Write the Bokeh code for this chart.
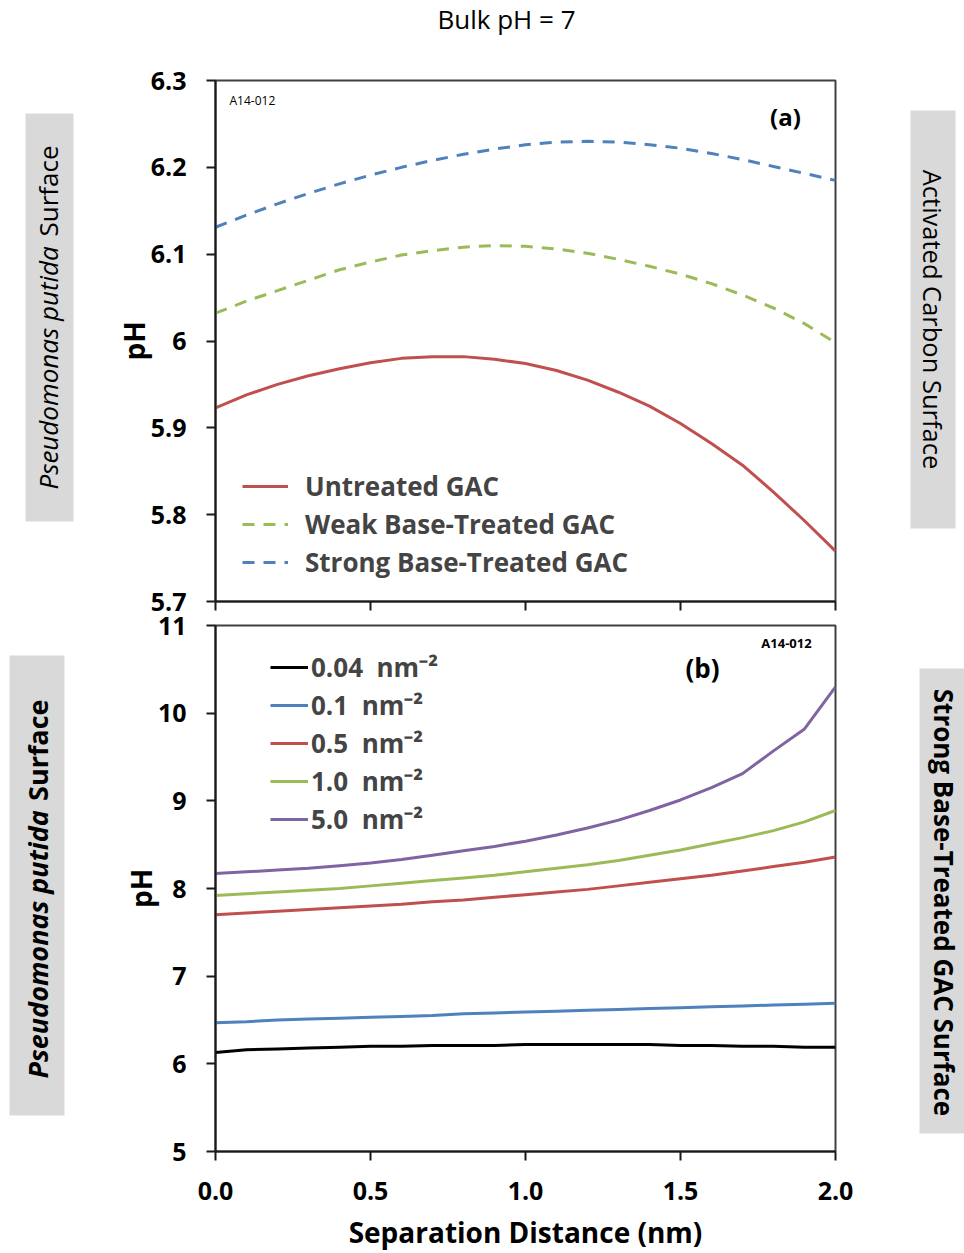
from math import pi

from bokeh.plotting import figure
from bokeh.models import Label, Legend, LegendItem, FixedTicker, Range1d
from bokeh.layouts import column, row
from bokeh.core.properties import value
from bokeh.embed import file_html
from bokeh.resources import INLINE

# ---------------- data ----------------
distance = [0.0, 0.1, 0.2, 0.3, 0.4, 0.5, 0.6, 0.7, 0.8, 0.9, 1.0,
            1.1, 1.2, 1.3, 1.4, 1.5, 1.6, 1.7, 1.8, 1.9, 2.0]

# panel (a): GAC surface treatments
ph_untreated = [5.923, 5.938, 5.950, 5.960, 5.968, 5.975, 5.980, 5.982, 5.982, 5.979, 5.974,
                5.966, 5.955, 5.941, 5.925, 5.905, 5.882, 5.857, 5.826, 5.793, 5.758]
ph_weak_base = [6.032, 6.046, 6.058, 6.070, 6.082, 6.091, 6.099, 6.104, 6.108, 6.110, 6.109,
                6.106, 6.101, 6.094, 6.086, 6.077, 6.066, 6.053, 6.038, 6.020, 5.998]
ph_strong_base = [6.131, 6.145, 6.158, 6.170, 6.181, 6.191, 6.200, 6.208, 6.215, 6.221, 6.226,
                  6.229, 6.230, 6.229, 6.226, 6.222, 6.216, 6.209, 6.201, 6.193, 6.185]
series_a = ["Untreated GAC", "Weak Base-Treated GAC", "Strong Base-Treated GAC"]

# panel (b): site densities on the strong base-treated GAC
ph_004 = [6.13, 6.16, 6.17, 6.18, 6.19, 6.20, 6.20, 6.21, 6.21, 6.21, 6.22,
          6.22, 6.22, 6.22, 6.22, 6.21, 6.21, 6.20, 6.20, 6.19, 6.19]
ph_01 = [6.47, 6.48, 6.50, 6.51, 6.52, 6.53, 6.54, 6.55, 6.57, 6.58, 6.59,
         6.60, 6.61, 6.62, 6.63, 6.64, 6.65, 6.66, 6.67, 6.68, 6.69]
ph_05 = [7.70, 7.72, 7.74, 7.76, 7.78, 7.80, 7.82, 7.85, 7.87, 7.90, 7.93,
         7.96, 7.99, 8.03, 8.07, 8.11, 8.15, 8.20, 8.25, 8.30, 8.36]
ph_10 = [7.92, 7.94, 7.96, 7.98, 8.00, 8.03, 8.06, 8.09, 8.12, 8.15, 8.19,
         8.23, 8.27, 8.32, 8.38, 8.44, 8.51, 8.58, 8.66, 8.76, 8.89]
ph_50 = [8.17, 8.19, 8.21, 8.23, 8.26, 8.29, 8.33, 8.38, 8.43, 8.48, 8.54,
         8.61, 8.69, 8.78, 8.89, 9.01, 9.15, 9.31, 9.57, 9.82, 10.30]
series_b = ["0.04\u00a0\u00a0nm\u207b\u00b2", "0.1\u00a0\u00a0nm\u207b\u00b2", "0.5\u00a0\u00a0nm\u207b\u00b2",
            "1.0\u00a0\u00a0nm\u207b\u00b2", "5.0\u00a0\u00a0nm\u207b\u00b2"]

x_ticks = [0.0, 0.5, 1.0, 1.5, 2.0]
x_tick_labels = ["0.0", "0.5", "1.0", "1.5", "2.0"]
a_ticks = [5.7, 5.8, 5.9, 6.0, 6.1, 6.2, 6.3]
a_tick_labels = ["5.7", "5.8", "5.9", "6", "6.1", "6.2", "6.3"]
b_ticks = [5, 6, 7, 8, 9, 10, 11]
b_tick_labels = ["5", "6", "7", "8", "9", "10", "11"]

# ---------------- styling / page geometry ----------------
FONT = "Open Sans"
RED, GREEN, BLUE, PURPLE, BLACK = "#C0504D", "#9BBB59", "#4F81BD", "#8064A2", "#000000"
GRAY_BOX = "#D9D9D9"

PAGE_W = 964
TITLE_H = 40                 # strip holding the overall heading
ROW_A_TOP, ROW_A_H = TITLE_H, 573
ROW_B_TOP, ROW_B_H = TITLE_H + 573, 640
LEFT_W, RIGHT_W = 80, 64     # side strips with the surface captions
FRAME_LEFT, FRAME_RIGHT = 215, 835
A_FRAME_TOP, A_FRAME_BOTTOM = 80, 601
B_FRAME_TOP, B_FRAME_BOTTOM = 625, 1151


def sx(px):
    return px - FRAME_LEFT


def sy(py, frame_bottom):
    return frame_bottom - py


def strip(width, height, x0, y_top, frame_top, frame_bottom):
    """A bare figure whose data coordinates are page pixels.

    Figures in one row share their inner frame, so the vertical range spans
    the frame rows of the neighbouring panel."""
    s = figure(width=width, height=height,
               x_range=Range1d(x0, x0 + width), y_range=Range1d(frame_bottom, frame_top),
               output_backend="svg", toolbar_location=None,
               x_axis_type=None, y_axis_type=None, min_border=0,
               min_border_top=frame_top - y_top,
               min_border_bottom=y_top + height - frame_bottom)
    s.grid.visible = False
    s.outline_line_color = None
    s.background_fill_color = "white"
    s.border_fill_color = "white"
    return s


def caption(s, box, parts, angle, size, bold):
    left, right, top, bottom = box
    s.quad(left=[left], right=[right], top=[top], bottom=[bottom],
           fill_color=GRAY_BOX, line_color=None)
    for text, px, py, align, italic in parts:
        style = " ".join(w for w, on in (("bold", bold), ("italic", italic)) if on) or "normal"
        s.text(x=[px], y=[py], text=[text], angle=angle, text_align=align,
               text_baseline="middle", text_font=value(FONT), text_font_size=size,
               text_font_style=style, text_color="#000000")


def style_axis(axis, tick_values, tick_labels):
    axis.ticker = FixedTicker(ticks=tick_values)
    axis.major_label_overrides = {v: t for v, t in zip(tick_values, tick_labels)}
    axis.minor_tick_line_color = None
    axis.major_tick_in = 0
    axis.major_tick_out = 9
    axis.axis_line_width = 2
    axis.major_tick_line_width = 2
    axis.axis_line_color = "#1a1a1a"
    axis.major_tick_line_color = "#1a1a1a"
    axis.major_label_text_font = FONT
    axis.major_label_text_font_style = "bold"
    axis.major_label_text_font_size = "25px"
    axis.major_label_text_color = "#000000"
    axis.axis_label_text_font = FONT
    axis.axis_label_text_font_style = "bold"
    axis.axis_label_text_font_size = "28px"
    axis.axis_label_text_color = "#000000"


def panel(height, y0, y1, top, bottom):
    p = figure(width=PAGE_W - LEFT_W - RIGHT_W, height=height,
               x_range=Range1d(0, 2), y_range=Range1d(y0, y1),
               output_backend="svg", toolbar_location=None,
               min_border_left=FRAME_LEFT - LEFT_W,
               min_border_right=PAGE_W - RIGHT_W - FRAME_RIGHT,
               min_border_top=top, min_border_bottom=bottom)
    p.grid.visible = False
    p.outline_line_color = "#404040"
    p.outline_line_width = 2
    p.background_fill_color = "white"
    p.border_fill_color = "white"
    return p


def note(p, frame_bottom, text, px, py, size, style, align="center"):
    p.add_layout(Label(x=sx(px), y=sy(py, frame_bottom), x_units="screen", y_units="screen",
                       text=text, text_align=align, text_baseline="middle",
                       text_font=FONT, text_font_size=size, text_font_style=style,
                       text_color="#000000"))


# ---------------- heading ----------------
head = strip(PAGE_W, TITLE_H, 0, 0, 0, TITLE_H)
head.text(x=[506], y=[18], text=["Bulk pH = 7"], text_align="center", text_baseline="middle",
          text_font=value(FONT), text_font_size="26px", text_color="#000000")

# ---------------- panel (a) ----------------
pa = panel(ROW_A_H, 5.7, 6.3, A_FRAME_TOP - ROW_A_TOP, ROW_A_TOP + ROW_A_H - A_FRAME_BOTTOM)
style_axis(pa.yaxis[0], a_ticks, a_tick_labels)
style_axis(pa.xaxis[0], x_ticks, x_tick_labels)
pa.xaxis.major_label_text_font_size = "0px"
pa.xaxis.major_label_text_color = None
pa.xaxis.major_label_standoff = 0
pa.yaxis.major_label_standoff = 20
pa.yaxis.axis_label = "pH"
pa.yaxis.axis_label_standoff = -5

ra1 = pa.line(distance, ph_untreated, line_color=RED, line_width=3)
ra2 = pa.line(distance, ph_weak_base, line_color=GREEN, line_width=3, line_dash="12 9")
ra3 = pa.line(distance, ph_strong_base, line_color=BLUE, line_width=3, line_dash="12 9")

leg_a = Legend(items=[LegendItem(label=lab, renderers=[r])
                      for lab, r in zip(series_a, [ra1, ra2, ra3])],
               location=(27, 21), glyph_width=46, glyph_height=36, label_height=36,
               label_standoff=17, spacing=2, padding=0, margin=0,
               border_line_color=None, background_fill_alpha=0,
               label_text_font=FONT, label_text_font_style="bold", label_text_font_size="26px")
pa.add_layout(leg_a)

note(pa, A_FRAME_BOTTOM, "A14-012", 229, 100, "12px", "normal", align="left")
note(pa, A_FRAME_BOTTOM, "(a)", 785, 116, "24px", "bold")

la = strip(LEFT_W, ROW_A_H, 0, ROW_A_TOP, A_FRAME_TOP, A_FRAME_BOTTOM)
caption(la, (25, 73, 113, 521),
        [("Pseudomonas putida", 47, 489, "left", True), ("Surface", 47, 145, "right", False)],
        pi / 2, "26px", False)
ra = strip(RIGHT_W, ROW_A_H, PAGE_W - RIGHT_W, ROW_A_TOP, A_FRAME_TOP, A_FRAME_BOTTOM)
caption(ra, (910, 955, 110, 528),
        [("Activated Carbon Surface", 932, 319, "center", False)],
        -pi / 2, "25.5px", False)

# ---------------- panel (b) ----------------
pb = panel(ROW_B_H, 5, 11, B_FRAME_TOP - ROW_B_TOP, ROW_B_TOP + ROW_B_H - B_FRAME_BOTTOM)
style_axis(pb.yaxis[0], b_ticks, b_tick_labels)
style_axis(pb.xaxis[0], x_ticks, x_tick_labels)
pb.yaxis.major_label_standoff = 20
pb.yaxis.axis_label = "pH"
pb.yaxis.axis_label_standoff = -5
pb.xaxis.major_label_standoff = 21
pb.xaxis.axis_label = "Separation Distance (nm)"
pb.xaxis.axis_label_standoff = 10

rb = [pb.line(distance, ys, line_color=col, line_width=3)
      for ys, col in zip([ph_004, ph_01, ph_05, ph_10, ph_50], [BLACK, BLUE, RED, GREEN, PURPLE])]

leg_b = Legend(items=[LegendItem(label=lab, renderers=[r]) for lab, r in zip(series_b, rb)],
               location=(55, 314), glyph_width=38, glyph_height=36, label_height=36,
               label_standoff=3, spacing=2, padding=0, margin=0,
               border_line_color=None, background_fill_alpha=0,
               label_text_font=FONT, label_text_font_style="bold", label_text_font_size="26px")
pb.add_layout(leg_b)

note(pb, B_FRAME_BOTTOM, "A14-012", 786, 642, "13px", "bold")
note(pb, B_FRAME_BOTTOM, "(b)", 702, 667, "26px", "bold")

lb = strip(LEFT_W, ROW_B_H, 0, ROW_B_TOP, B_FRAME_TOP, B_FRAME_BOTTOM)
caption(lb, (9, 64, 655, 1115),
        [("Pseudomonas putida", 37, 1078, "left", True), ("Surface", 37, 699, "right", False)],
        pi / 2, "27px", True)
rbx = strip(RIGHT_W, ROW_B_H, PAGE_W - RIGHT_W, ROW_B_TOP, B_FRAME_TOP, B_FRAME_BOTTOM)
caption(rbx, (919, 964, 668, 1133),
        [("Strong Base-Treated GAC Surface", 943, 902, "center", False)],
        -pi / 2, "26px", True)

layout = column(head, row(la, pa, ra, spacing=0), row(lb, pb, rbx, spacing=0), spacing=0)
open("out.html", "w").write(file_html(layout, INLINE))
